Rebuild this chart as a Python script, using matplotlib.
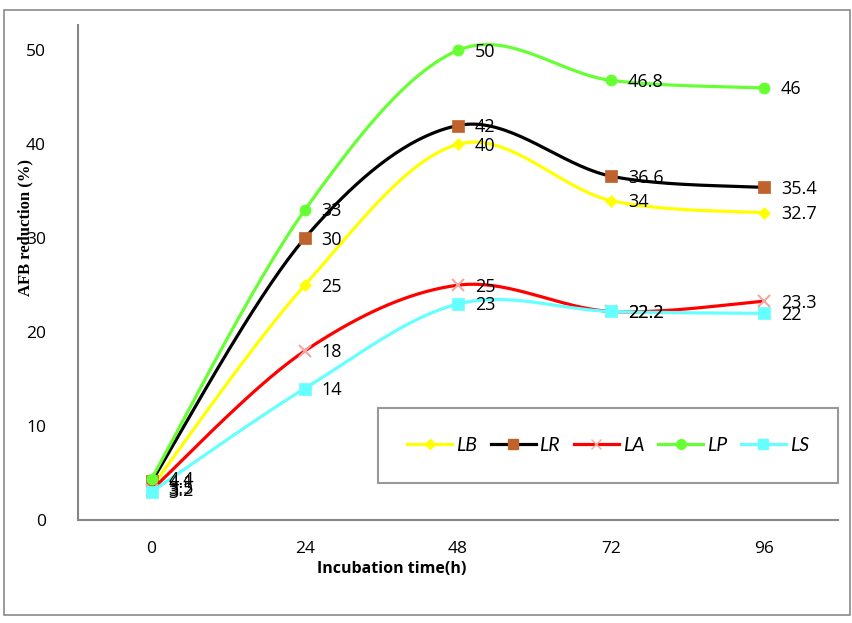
import numpy as np
from matplotlib import pyplot as plt
from matplotlib.patches import Rectangle

plt.rcParams['font.family'] = ['Open Sans', 'DejaVu Sans']

horas = ["0", "24", "48", "72", "96"]
LB = [3.5, 25, 40, 34, 32.7]
LR = [4.1, 30, 42, 36.6, 35.4]
LA = [3.2, 18, 25, 22.2, 23.3]
LP = [4.4, 33, 50, 46.8, 46]
LS = [3.0, 14, 23, 22.2, 22]

series = [
    ("LB", LB, "#ffff00", "#ffff00", "D", 6),
    ("LR", LR, "#000000", "#c0622b", "s", 8),
    ("LA", LA, "#ff0000", "#f4a6a0", "x", 8),
    ("LP", LP, "#66ff33", "#66ff33", "o", 8),
    ("LS", LS, "#66ffff", "#66ffff", "s", 8),
]


def curva_suave(x, y, n=40):
    # bezier tipo Catmull-Rom, como el suavizado de Excel
    x = np.asarray(x, float)
    y = np.asarray(y, float)
    px = np.concatenate([[x[0]], x, [x[-1]]])
    py = np.concatenate([[y[0]], y, [y[-1]]])
    xs, ys = [], []
    t = np.linspace(0, 1, n)
    for i in range(1, len(px) - 2):
        p0 = np.array([px[i], py[i]])
        p3 = np.array([px[i + 1], py[i + 1]])
        p1 = p0 + (np.array([px[i + 1], py[i + 1]]) - np.array([px[i - 1], py[i - 1]])) / 6
        p2 = p3 - (np.array([px[i + 2], py[i + 2]]) - np.array([px[i], py[i]])) / 6
        b = ((1 - t) ** 3)[:, None] * p0 + (3 * (1 - t) ** 2 * t)[:, None] * p1 \
            + (3 * (1 - t) * t ** 2)[:, None] * p2 + (t ** 3)[:, None] * p3
        xs.extend(b[:, 0])
        ys.extend(b[:, 1])
    return xs, ys


fig = plt.figure(figsize=(8.53, 6.23), dpi=100)
fig.patches.append(Rectangle((4 / 853, 1 - 615 / 623), 846 / 853, 605 / 623,
                             transform=fig.transFigure, fill=False,
                             edgecolor="#8a8a8a", linewidth=1.2))
ax = fig.add_axes([78 / 853, 1 - 520 / 623, 760 / 853, 495 / 623])

x = np.arange(len(horas))
for nombre, vals, color_linea, color_marca, marca, ms in series:
    xs, ys = curva_suave(x, vals)
    ax.plot(xs, ys, '-', color=color_linea, linewidth=2.3)
    ax.plot(x, vals, linestyle='none', marker=marca, color=color_marca, markersize=ms,
            markeredgewidth=1.5 if marca == "x" else 0.5)
    ax.plot([], [], '-', color=color_linea, linewidth=2.3, marker=marca, markerfacecolor=color_marca,
            markeredgecolor=color_marca, markersize=ms - 1, label=nombre)
    for xi, v in zip(x, vals):
        ax.annotate(("%g" % v), (xi, v), xytext=(12, -1), textcoords='offset points',
                    ha='left', va='center', fontsize=13, color='black')

ax.set_xlim(-0.48, 4.48)
ax.set_ylim(0, 52.7)
ax.set_xticks(x)
ax.set_xticklabels(horas)
ax.set_yticks([0, 10, 20, 30, 40, 50])
ax.tick_params(axis='x', length=0, pad=15, labelsize=12.5)
ax.tick_params(axis='y', length=0, pad=23, labelsize=12.5)
for s in ['top', 'right']:
    ax.spines[s].set_visible(False)
for s in ['left', 'bottom']:
    ax.spines[s].set_color('#868686')
    ax.spines[s].set_linewidth(1.5)

fig.text(392 / 853, 1 - 569 / 623, "Incubation time(h)", ha='center', va='center',
         fontsize=11.5, fontweight='bold')
fig.text(25 / 853, 1 - 228 / 623, "AFB reduction (%)", rotation=90, ha='center', va='center',
         fontsize=12, fontweight='bold', family=['Liberation Serif', 'DejaVu Serif'])

leg = ax.legend(loc='lower left', bbox_to_anchor=((378 - 78) / 760, (520 - 483) / 495, 460 / 760, 76 / 495),
                mode='expand', ncol=5, frameon=True, fancybox=False, handlelength=2.3,
                prop={'style': 'italic', 'size': 14, 'family': ['Lato', 'DejaVu Sans']},
                borderaxespad=0, handletextpad=0.2, columnspacing=1.0, borderpad=1.5)
leg.get_frame().set_edgecolor('#7f7f7f')
leg.get_frame().set_linewidth(1.5)

fig.savefig("out.png", dpi=100)
